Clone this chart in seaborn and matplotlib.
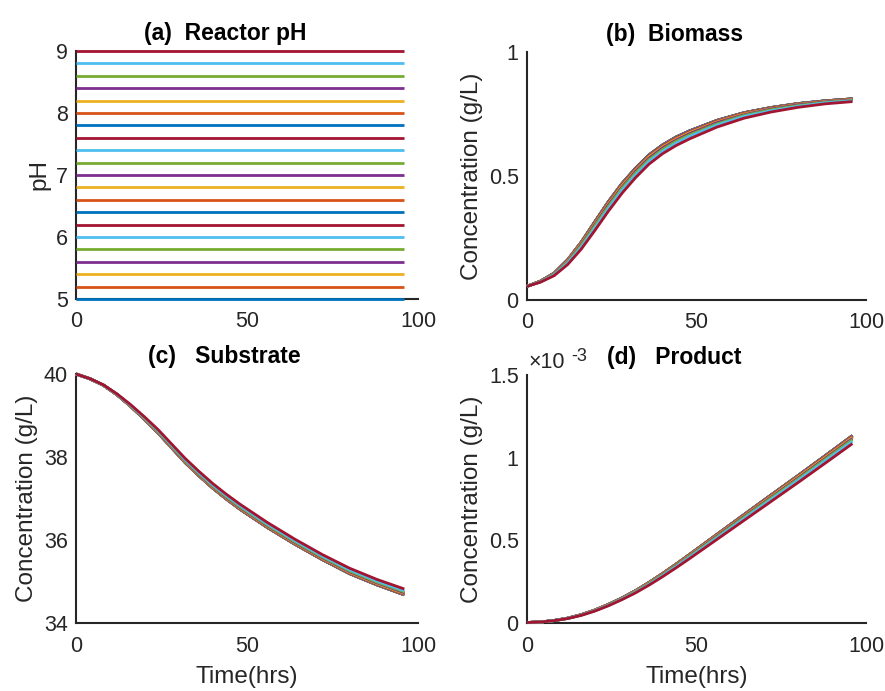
import numpy as np
import pandas as pd
import matplotlib
matplotlib.use("Agg")
import matplotlib.pyplot as plt
import seaborn as sns

# ---------------------------------------------------------------------------
# Simulated fed-batch runs: one run per reactor pH set-point
# ---------------------------------------------------------------------------
ph_levels = [5.0, 5.2, 5.4, 5.6, 5.8, 6.0, 6.2, 6.4, 6.6, 6.8, 7.0,
             7.2, 7.4, 7.6, 7.8, 8.0, 8.2, 8.4, 8.6, 8.8, 9.0]
ph_span_hrs = [0, 96]
time_hrs = [0, 4, 8, 12, 16, 20, 24, 28, 32, 36, 40, 44, 48, 56, 64, 72, 80, 88, 96]

# Biomass concentration (g/L), one row per pH level
biomass = [
    [0.055, 0.076, 0.108, 0.162, 0.233, 0.315, 0.396, 0.469, 0.531, 0.585, 0.625, 0.657, 0.682, 0.724, 0.755, 0.776, 0.792, 0.803, 0.811],  # 5.0
    [0.055, 0.076, 0.108, 0.162, 0.233, 0.315, 0.396, 0.469, 0.531, 0.585, 0.625, 0.657, 0.682, 0.724, 0.755, 0.776, 0.792, 0.803, 0.811],  # 5.2
    [0.055, 0.076, 0.108, 0.162, 0.233, 0.315, 0.396, 0.469, 0.531, 0.585, 0.625, 0.657, 0.682, 0.724, 0.755, 0.776, 0.792, 0.803, 0.811],  # 5.4
    [0.055, 0.076, 0.108, 0.162, 0.233, 0.315, 0.396, 0.469, 0.531, 0.585, 0.625, 0.657, 0.682, 0.724, 0.755, 0.776, 0.792, 0.803, 0.811],  # 5.6
    [0.055, 0.076, 0.108, 0.162, 0.233, 0.315, 0.396, 0.469, 0.531, 0.585, 0.625, 0.657, 0.682, 0.724, 0.755, 0.776, 0.792, 0.803, 0.811],  # 5.8
    [0.055, 0.076, 0.108, 0.162, 0.233, 0.315, 0.396, 0.469, 0.531, 0.585, 0.625, 0.657, 0.682, 0.724, 0.755, 0.776, 0.792, 0.803, 0.811],  # 6.0
    [0.055, 0.076, 0.108, 0.162, 0.233, 0.315, 0.396, 0.469, 0.531, 0.585, 0.625, 0.657, 0.682, 0.724, 0.755, 0.776, 0.792, 0.803, 0.811],  # 6.2
    [0.055, 0.076, 0.108, 0.162, 0.233, 0.315, 0.396, 0.469, 0.531, 0.585, 0.625, 0.657, 0.682, 0.724, 0.755, 0.776, 0.792, 0.803, 0.811],  # 6.4
    [0.055, 0.076, 0.107, 0.161, 0.232, 0.313, 0.394, 0.467, 0.529, 0.583, 0.623, 0.655, 0.680, 0.723, 0.754, 0.775, 0.791, 0.802, 0.810],  # 6.6
    [0.055, 0.076, 0.107, 0.161, 0.232, 0.313, 0.394, 0.467, 0.529, 0.583, 0.623, 0.655, 0.680, 0.723, 0.754, 0.775, 0.791, 0.802, 0.810],  # 6.8
    [0.055, 0.076, 0.107, 0.161, 0.232, 0.313, 0.394, 0.467, 0.529, 0.583, 0.623, 0.655, 0.680, 0.723, 0.754, 0.775, 0.791, 0.802, 0.810],  # 7.0
    [0.055, 0.076, 0.107, 0.160, 0.230, 0.312, 0.392, 0.465, 0.527, 0.581, 0.622, 0.654, 0.679, 0.721, 0.753, 0.774, 0.790, 0.802, 0.810],  # 7.2
    [0.055, 0.076, 0.107, 0.160, 0.230, 0.312, 0.392, 0.465, 0.527, 0.581, 0.622, 0.654, 0.679, 0.721, 0.753, 0.774, 0.790, 0.802, 0.810],  # 7.4
    [0.055, 0.076, 0.107, 0.160, 0.230, 0.312, 0.392, 0.465, 0.527, 0.581, 0.622, 0.654, 0.679, 0.721, 0.753, 0.774, 0.790, 0.802, 0.810],  # 7.6
    [0.055, 0.075, 0.106, 0.159, 0.229, 0.310, 0.390, 0.463, 0.525, 0.579, 0.620, 0.652, 0.677, 0.720, 0.752, 0.773, 0.790, 0.801, 0.809],  # 7.8
    [0.055, 0.075, 0.106, 0.159, 0.229, 0.310, 0.390, 0.463, 0.525, 0.579, 0.620, 0.652, 0.677, 0.720, 0.752, 0.773, 0.790, 0.801, 0.809],  # 8.0
    [0.055, 0.075, 0.105, 0.157, 0.226, 0.306, 0.386, 0.459, 0.521, 0.576, 0.616, 0.648, 0.674, 0.717, 0.749, 0.771, 0.788, 0.800, 0.808],  # 8.2
    [0.055, 0.075, 0.104, 0.155, 0.223, 0.303, 0.383, 0.455, 0.518, 0.572, 0.613, 0.645, 0.671, 0.715, 0.747, 0.770, 0.787, 0.799, 0.807],  # 8.4
    [0.055, 0.074, 0.103, 0.152, 0.219, 0.298, 0.377, 0.450, 0.512, 0.566, 0.607, 0.640, 0.666, 0.710, 0.744, 0.767, 0.784, 0.797, 0.805],  # 8.6
    [0.055, 0.073, 0.101, 0.149, 0.213, 0.290, 0.369, 0.442, 0.504, 0.559, 0.600, 0.633, 0.660, 0.705, 0.740, 0.763, 0.781, 0.795, 0.803],  # 8.8
    [0.055, 0.072, 0.098, 0.143, 0.205, 0.280, 0.358, 0.430, 0.493, 0.548, 0.590, 0.623, 0.650, 0.697, 0.733, 0.758, 0.777, 0.791, 0.800],  # 9.0
]

# Substrate concentration (g/L), one row per pH level
substrate = [
    [40.000, 39.888, 39.730, 39.500, 39.220, 38.910, 38.580, 38.220, 37.860, 37.545, 37.250, 36.985, 36.740, 36.300, 35.900, 35.530, 35.190, 34.920, 34.680],  # 5.0
    [40.000, 39.888, 39.730, 39.500, 39.220, 38.910, 38.580, 38.220, 37.860, 37.545, 37.250, 36.985, 36.740, 36.300, 35.900, 35.530, 35.190, 34.920, 34.680],  # 5.2
    [40.000, 39.888, 39.730, 39.500, 39.220, 38.910, 38.580, 38.220, 37.860, 37.545, 37.250, 36.985, 36.740, 36.300, 35.900, 35.530, 35.190, 34.920, 34.680],  # 5.4
    [40.000, 39.888, 39.730, 39.500, 39.220, 38.910, 38.580, 38.220, 37.860, 37.545, 37.250, 36.985, 36.740, 36.300, 35.900, 35.530, 35.190, 34.920, 34.680],  # 5.6
    [40.000, 39.888, 39.730, 39.500, 39.220, 38.910, 38.580, 38.220, 37.860, 37.545, 37.250, 36.985, 36.740, 36.300, 35.900, 35.530, 35.190, 34.920, 34.680],  # 5.8
    [40.000, 39.888, 39.730, 39.500, 39.220, 38.910, 38.580, 38.220, 37.860, 37.545, 37.250, 36.985, 36.740, 36.300, 35.900, 35.530, 35.190, 34.920, 34.680],  # 6.0
    [40.000, 39.888, 39.730, 39.500, 39.220, 38.910, 38.580, 38.220, 37.860, 37.545, 37.250, 36.985, 36.740, 36.300, 35.900, 35.530, 35.190, 34.920, 34.680],  # 6.2
    [40.000, 39.888, 39.730, 39.500, 39.220, 38.910, 38.580, 38.220, 37.860, 37.545, 37.250, 36.985, 36.740, 36.300, 35.900, 35.530, 35.190, 34.920, 34.680],  # 6.4
    [40.000, 39.888, 39.731, 39.501, 39.222, 38.913, 38.584, 38.225, 37.865, 37.550, 37.256, 36.991, 36.746, 36.306, 35.906, 35.536, 35.197, 34.927, 34.687],  # 6.6
    [40.000, 39.888, 39.731, 39.501, 39.222, 38.913, 38.584, 38.225, 37.865, 37.550, 37.256, 36.991, 36.746, 36.306, 35.906, 35.536, 35.197, 34.927, 34.687],  # 6.8
    [40.000, 39.888, 39.731, 39.501, 39.222, 38.913, 38.584, 38.225, 37.865, 37.550, 37.256, 36.991, 36.746, 36.306, 35.906, 35.536, 35.197, 34.927, 34.687],  # 7.0
    [40.000, 39.888, 39.731, 39.502, 39.224, 38.916, 38.588, 38.229, 37.870, 37.556, 37.261, 36.997, 36.752, 36.312, 35.912, 35.542, 35.203, 34.933, 34.694],  # 7.2
    [40.000, 39.888, 39.731, 39.502, 39.224, 38.916, 38.588, 38.229, 37.870, 37.556, 37.261, 36.997, 36.752, 36.312, 35.912, 35.542, 35.203, 34.933, 34.694],  # 7.4
    [40.000, 39.888, 39.731, 39.502, 39.224, 38.916, 38.588, 38.229, 37.870, 37.556, 37.261, 36.997, 36.752, 36.312, 35.912, 35.542, 35.203, 34.933, 34.694],  # 7.6
    [40.000, 39.888, 39.732, 39.503, 39.226, 38.919, 38.592, 38.234, 37.875, 37.561, 37.267, 37.002, 36.758, 36.318, 35.918, 35.548, 35.210, 34.940, 34.701],  # 7.8
    [40.000, 39.888, 39.732, 39.503, 39.226, 38.919, 38.592, 38.234, 37.875, 37.561, 37.267, 37.002, 36.758, 36.318, 35.918, 35.548, 35.210, 34.940, 34.701],  # 8.0
    [40.000, 39.889, 39.733, 39.505, 39.230, 38.925, 38.600, 38.243, 37.885, 37.571, 37.278, 37.014, 36.770, 36.330, 35.930, 35.560, 35.223, 34.953, 34.715],  # 8.2
    [40.000, 39.889, 39.734, 39.507, 39.234, 38.931, 38.608, 38.252, 37.895, 37.582, 37.289, 37.025, 36.782, 36.342, 35.942, 35.572, 35.236, 34.966, 34.729],  # 8.4
    [40.000, 39.889, 39.735, 39.510, 39.240, 38.940, 38.620, 38.265, 37.910, 37.598, 37.305, 37.043, 36.800, 36.360, 35.960, 35.590, 35.255, 34.985, 34.750],  # 8.6
    [40.000, 39.889, 39.737, 39.514, 39.248, 38.952, 38.636, 38.283, 37.930, 37.619, 37.327, 37.066, 36.824, 36.384, 35.984, 35.614, 35.281, 35.011, 34.778],  # 8.8
    [40.000, 39.890, 39.740, 39.520, 39.260, 38.970, 38.660, 38.310, 37.960, 37.650, 37.360, 37.100, 36.860, 36.420, 36.020, 35.650, 35.320, 35.050, 34.820],  # 9.0
]

# Product concentration in units of 1e-3 g/L, one row per pH level
product_milli = [
    [0.003, 0.006, 0.015, 0.029, 0.050, 0.078, 0.112, 0.151, 0.195, 0.245, 0.299, 0.356, 0.415, 0.535, 0.655, 0.774, 0.892, 1.012, 1.133],  # 5.0
    [0.003, 0.006, 0.015, 0.029, 0.050, 0.078, 0.112, 0.151, 0.195, 0.245, 0.299, 0.356, 0.415, 0.535, 0.655, 0.774, 0.892, 1.012, 1.133],  # 5.2
    [0.003, 0.006, 0.015, 0.029, 0.050, 0.078, 0.112, 0.151, 0.195, 0.245, 0.299, 0.356, 0.415, 0.535, 0.655, 0.774, 0.892, 1.012, 1.133],  # 5.4
    [0.003, 0.006, 0.015, 0.029, 0.050, 0.078, 0.112, 0.151, 0.195, 0.245, 0.299, 0.356, 0.415, 0.535, 0.655, 0.774, 0.892, 1.012, 1.133],  # 5.6
    [0.003, 0.006, 0.015, 0.029, 0.050, 0.078, 0.112, 0.151, 0.195, 0.245, 0.299, 0.356, 0.415, 0.535, 0.655, 0.774, 0.892, 1.012, 1.133],  # 5.8
    [0.003, 0.006, 0.015, 0.029, 0.050, 0.078, 0.112, 0.151, 0.195, 0.245, 0.299, 0.356, 0.415, 0.535, 0.655, 0.774, 0.892, 1.012, 1.133],  # 6.0
    [0.003, 0.006, 0.015, 0.029, 0.050, 0.078, 0.112, 0.151, 0.195, 0.245, 0.299, 0.356, 0.415, 0.535, 0.655, 0.774, 0.892, 1.012, 1.133],  # 6.2
    [0.003, 0.006, 0.015, 0.029, 0.050, 0.078, 0.112, 0.151, 0.195, 0.245, 0.299, 0.356, 0.415, 0.535, 0.655, 0.774, 0.892, 1.012, 1.133],  # 6.4
    [0.003, 0.006, 0.015, 0.029, 0.050, 0.078, 0.112, 0.150, 0.194, 0.244, 0.298, 0.355, 0.414, 0.534, 0.653, 0.772, 0.890, 1.010, 1.131],  # 6.6
    [0.003, 0.006, 0.015, 0.029, 0.050, 0.078, 0.112, 0.150, 0.194, 0.244, 0.298, 0.355, 0.414, 0.534, 0.653, 0.772, 0.890, 1.010, 1.131],  # 6.8
    [0.003, 0.006, 0.015, 0.029, 0.050, 0.078, 0.112, 0.150, 0.194, 0.244, 0.298, 0.355, 0.414, 0.534, 0.653, 0.772, 0.890, 1.010, 1.131],  # 7.0
    [0.003, 0.006, 0.015, 0.029, 0.050, 0.077, 0.111, 0.150, 0.194, 0.243, 0.297, 0.354, 0.413, 0.532, 0.652, 0.770, 0.888, 1.008, 1.128],  # 7.2
    [0.003, 0.006, 0.015, 0.029, 0.050, 0.077, 0.111, 0.150, 0.194, 0.243, 0.297, 0.354, 0.413, 0.532, 0.652, 0.770, 0.888, 1.008, 1.128],  # 7.4
    [0.003, 0.006, 0.015, 0.029, 0.050, 0.077, 0.111, 0.150, 0.194, 0.243, 0.297, 0.354, 0.413, 0.532, 0.652, 0.770, 0.888, 1.008, 1.128],  # 7.6
    [0.003, 0.006, 0.015, 0.029, 0.049, 0.077, 0.111, 0.150, 0.193, 0.243, 0.296, 0.353, 0.411, 0.531, 0.650, 0.768, 0.886, 1.005, 1.126],  # 7.8
    [0.003, 0.006, 0.015, 0.029, 0.049, 0.077, 0.111, 0.150, 0.193, 0.243, 0.296, 0.353, 0.411, 0.531, 0.650, 0.768, 0.886, 1.005, 1.126],  # 8.0
    [0.003, 0.006, 0.015, 0.029, 0.049, 0.077, 0.110, 0.148, 0.192, 0.241, 0.294, 0.350, 0.409, 0.528, 0.646, 0.764, 0.882, 1.001, 1.121],  # 8.2
    [0.003, 0.006, 0.015, 0.028, 0.049, 0.076, 0.109, 0.147, 0.190, 0.239, 0.292, 0.348, 0.406, 0.525, 0.643, 0.760, 0.877, 0.996, 1.116],  # 8.4
    [0.003, 0.006, 0.014, 0.028, 0.048, 0.075, 0.108, 0.146, 0.189, 0.237, 0.290, 0.345, 0.403, 0.520, 0.638, 0.755, 0.871, 0.990, 1.109],  # 8.6
    [0.003, 0.006, 0.014, 0.028, 0.047, 0.074, 0.106, 0.144, 0.186, 0.234, 0.286, 0.341, 0.398, 0.514, 0.631, 0.747, 0.863, 0.981, 1.099],  # 8.8
    [0.003, 0.006, 0.014, 0.027, 0.046, 0.072, 0.104, 0.141, 0.182, 0.229, 0.280, 0.334, 0.390, 0.505, 0.620, 0.735, 0.850, 0.967, 1.085],  # 9.0
]

# Default MATLAB line colour order, cycled over the pH runs
line_colors = ["#0072BD", "#D95319", "#EDB120", "#7E2F8E",
               "#77AC30", "#4DBEEE", "#A2142F"]

# ---------------------------------------------------------------------------
sns.set_theme(style="white")
plt.rcParams["font.family"] = ["Liberation Sans", "DejaVu Sans"]

INK = "#262626"
LW = 2.0

ph_labels = [f"{p:.1f}" for p in ph_levels]
palette = {lab: line_colors[i % len(line_colors)] for i, lab in enumerate(ph_labels)}


def long_frame(times, table, scale=1.0):
    rows = []
    for lab, vals in zip(ph_labels, table):
        for t, v in zip(times, vals):
            rows.append((lab, t, v * scale))
    return pd.DataFrame(rows, columns=["pH", "time", "value"])


ph_frame = long_frame(ph_span_hrs, [[p, p] for p in ph_levels])
biomass_frame = long_frame(time_hrs, biomass)
substrate_frame = long_frame(time_hrs, substrate)
product_frame = long_frame(time_hrs, product_milli, scale=1e-3)

W, H = 885, 691
fig = plt.figure(figsize=(W / 100, H / 100), dpi=100)
fig.patch.set_facecolor("white")


def add_axes_px(x0, x1, ytop, ybot):
    return fig.add_axes([x0 / W, 1 - ybot / H, (x1 - x0) / W, (ybot - ytop) / H])


ax_a = add_axes_px(76, 418, 51, 299)
ax_b = add_axes_px(527, 866, 52, 300)
ax_c = add_axes_px(76, 418, 374, 623)
ax_d = add_axes_px(527, 866, 375, 623)

panels = [
    (ax_a, ph_frame, "(a)  Reactor pH", "pH", (5, 9), [5, 6, 7, 8, 9], ["5", "6", "7", "8", "9"]),
    (ax_b, biomass_frame, "(b)  Biomass", "Concentration (g/L)", (0, 1), [0, 0.5, 1], ["0", "0.5", "1"]),
    (ax_c, substrate_frame, "(c)   Substrate", "Concentration (g/L)", (34, 40), [34, 36, 38, 40], ["34", "36", "38", "40"]),
    (ax_d, product_frame, "(d)   Product", "Concentration (g/L)", (0, 1.5e-3),
     [0, 0.5e-3, 1e-3, 1.5e-3], ["0", "0.5", "1", "1.5"]),
]

for ax, frame, title, ylabel, ylim, yticks, ylabels in panels:
    sns.lineplot(data=frame, x="time", y="value", hue="pH", hue_order=ph_labels,
                 palette=palette, linewidth=LW, legend=False, ax=ax,
                 estimator=None, sort=False)
    for ln in ax.lines:
        ln.set_clip_on(False)
        ln.set_zorder(3)
        ln.set_solid_capstyle("butt")
        ln.set_solid_joinstyle("round")

    ax.set_xlim(0, 100)
    ax.set_ylim(*ylim)
    ax.set_xticks([0, 50, 100], labels=["0", "50", "100"])
    ax.set_yticks(yticks, labels=ylabels)
    ax.set_facecolor("white")
    ax.grid(False)
    for side in ("top", "right"):
        ax.spines[side].set_visible(False)
    for side in ("left", "bottom"):
        ax.spines[side].set_linewidth(1.5)
        ax.spines[side].set_color(INK)
        ax.spines[side].set_zorder(2)
    ax.tick_params(axis="both", direction="in", length=3, width=1.3,
                   colors=INK, labelsize=15.5)
    ax.tick_params(axis="x", pad=9)
    ax.tick_params(axis="y", pad=6)
    ax.set_xlabel("")
    ax.set_ylabel(ylabel, fontsize=17.5, color=INK, labelpad=4)
    ax.text(0.435, 1.045, title, transform=ax.transAxes, ha="center",
            va="baseline", fontsize=16.5, fontweight="bold", color="black")

for ax in (ax_c, ax_d):
    ax.set_xlabel("Time(hrs)", fontsize=17.5, color=INK, labelpad=7)

# Exponent marker for the product axis
ax_d.text(0.003, 1.03, "\u00d710", transform=ax_d.transAxes, ha="left",
          va="baseline", fontsize=15.5, color=INK)
ax_d.text(0.132, 1.058, "-3", transform=ax_d.transAxes, ha="left",
          va="baseline", fontsize=13, color=INK)

fig.savefig("out.png", dpi=100, facecolor="white")
